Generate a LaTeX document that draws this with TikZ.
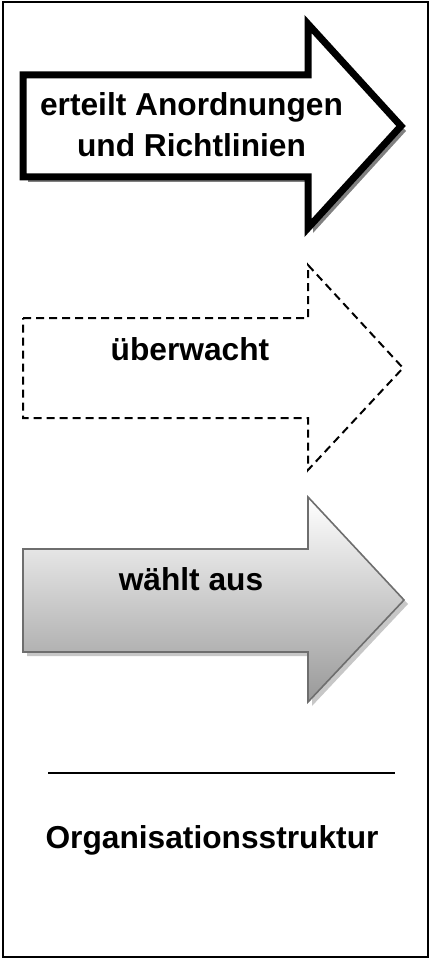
\documentclass[tikz,border=0pt]{standalone}
\usepackage{fontspec}
\setmainfont{Liberation Sans}

\begin{document}
\begin{tikzpicture}[x=1pt,y=-1pt,
    txt/.style={font=\bfseries\fontsize{31.7}{41}\selectfont, inner sep=0pt, anchor=base, align=center},
    boldarrow/.style={draw=black, line width=7pt, fill=white},
    dasharrow/.style={draw=black, line width=2pt, dash pattern=on 8pt off 5pt},
    shadearrow/.style={draw=black!57, line width=1.6pt, top color=white, bottom color=black!40}]
    \useasboundingbox (0,0) rectangle (430,960);
    \draw[line width=1.5pt] (3,2) rectangle (428,957);

    % erteilt Anordnungen
    \fill[black!50] (28,80) -- (313,80) -- (313,29) -- (406,131) -- (313,233) -- (313,182) -- (28,182) -- cycle;
    \draw[boldarrow] (23,75) -- (308,75) -- (308,24) -- (401,126) -- (308,228) -- (308,177) -- (23,177) -- cycle;
    \node[txt] (anordnen) at (191.5,157) {erteilt Anordnungen\\und Richtlinien};

    % ueberwacht
    \draw[dasharrow] (23,318) -- (308,318) -- (308,265) -- (403,368) -- (308,470) -- (308,418) -- (23,418) -- cycle;
    \node[txt] (ueberwacht) at (190,360) {überwacht};

    % waehlt aus
    \fill[black!22] (27,553) -- (312,553) -- (312,501) -- (408,604) -- (312,706) -- (312,656) -- (27,656) -- cycle;
    \draw[shadearrow] (23,549) -- (308,549) -- (308,497) -- (404,600) -- (308,702) -- (308,652) -- (23,652) -- cycle;
    \node[txt] (auswahl) at (191,590) {wählt aus};

    \draw[line width=1.5pt] (48,773) -- (395,773);
    \node[txt] (struktur) at (212,848) {Organisationsstruktur};
\end{tikzpicture}
\end{document}
